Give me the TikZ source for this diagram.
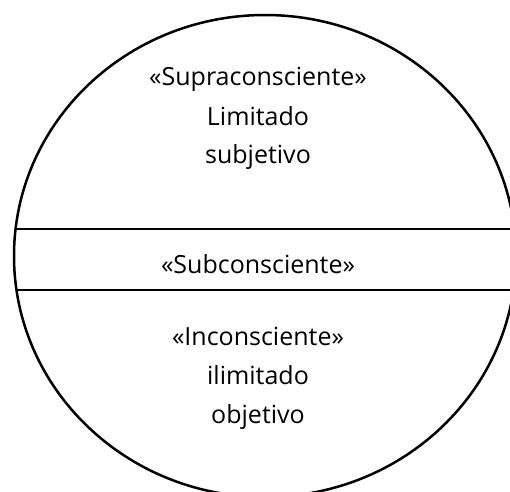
\documentclass[tikz,border=0pt]{standalone}
\usepackage{fontspec}
\setmainfont{Open Sans}
\begin{document}
\begin{tikzpicture}[x=1pt,y=-1pt]
	\tikzset{layer text/.style={anchor=base,inner sep=0pt,font=\fontsize{25}{30}\selectfont}}
	\tikzset{divider/.style={line width=2.5pt}}
	\useasboundingbox (0,0) rectangle (510,491);
	\clip (0,0) rectangle (510,491);
	\draw[divider] (265,256) ellipse [x radius=251, y radius=241];
	\coordinate (upperleft) at (15.6,229);
	\coordinate (upperright) at (510,229);
	\coordinate (lowerleft) at (16.5,290);
	\coordinate (lowerright) at (510,290);
	\draw[divider] (upperleft) -- (upperright);
	\draw[divider] (lowerleft) -- (lowerright);
	\node[layer text] (supra) at (258,85) {«Supraconsciente»};
	\node[layer text] (limitado) at (258,125) {Limitado};
	\node[layer text] (subjetivo) at (258,163) {subjetivo};
	\node[layer text] (sub) at (258,273) {«Subconsciente»};
	\node[layer text] (incon) at (258,345) {«Inconsciente»};
	\node[layer text] (ilimitado) at (258,384) {ilimitado};
	\node[layer text] (objetivo) at (258,423) {objetivo};
\end{tikzpicture}
\end{document}
